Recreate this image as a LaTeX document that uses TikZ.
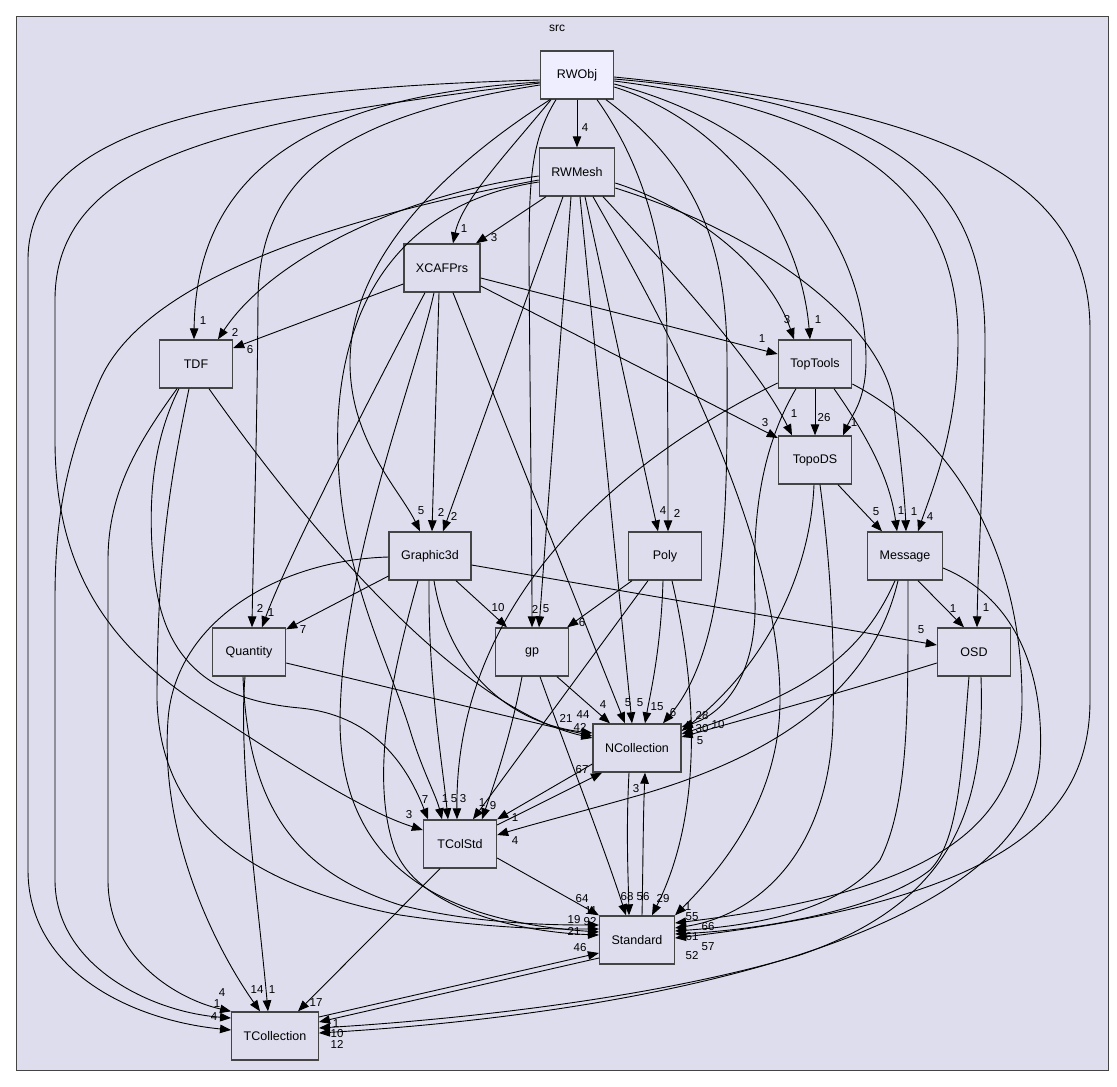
\documentclass[tikz,border=0pt]{standalone}
\usepackage{fontspec}
\setmainfont{Liberation Sans}
\usepackage{xcolor}
\usepackage{tikz}
\usetikzlibrary{arrows.meta}
\definecolor{clusterfill}{HTML}{DDDDEE}
\definecolor{dirfill}{HTML}{DDDDEE}
\definecolor{topfill}{HTML}{EEEEFF}
\definecolor{borderline}{HTML}{444444}

\begin{document}
\begin{tikzpicture}[x=1pt,y=-1pt,
  cluster/.style={draw=borderline,line width=0.9pt,fill=clusterfill},
  dirbox/.style={rectangle,draw=borderline,line width=1.4pt,fill=dirfill,minimum width=73pt,minimum height=48pt,inner xsep=12pt,font=\fontsize{12.5}{14}\selectfont},
  topbox/.style={dirbox,fill=topfill},
  dep/.style={-{Triangle[length=11pt,width=8.5pt]},line width=0.9pt},
  lbl/.style={font=\fontsize{11.5}{12}\selectfont,inner sep=0pt}]
\useasboundingbox[fill=white] (0,0) rectangle (1117,1087);
\draw[cluster] (16,16) rectangle (1108,1070);
\node[font=\fontsize{12}{13}\selectfont] (srclabel) at (557,28) {src};

\node[topbox] (RWObj) at (577,75) {RWObj};
\node[dirbox] (RWMesh) at (577,172) {RWMesh};
\node[dirbox] (XCAFPrs) at (442,268) {XCAFPrs};
\node[dirbox] (TDF) at (196,364) {TDF};
\node[dirbox] (TopTools) at (815,364) {TopTools};
\node[dirbox] (TopoDS) at (815,460) {TopoDS};
\node[dirbox] (Graphic3d) at (430,556) {Graphic3d};
\node[dirbox] (Poly) at (665,556) {Poly};
\node[dirbox] (Message) at (905,556) {Message};
\node[dirbox] (Quantity) at (249,652) {Quantity};
\node[dirbox] (gp) at (532,652) {gp};
\node[dirbox] (OSD) at (974,652) {OSD};
\node[dirbox] (NCollection) at (637,748) {NCollection};
\node[dirbox] (TColStd) at (460,844) {TColStd};
\node[dirbox] (Standard) at (637,940) {Standard};
\node[dirbox] (TCollection) at (275,1036) {TCollection};

\draw[dep] (RWObj) -- (RWMesh) node[lbl] at (585,128) {4};
\draw[dep] ([xshift=-26pt]RWObj.south) .. controls (510,150) and (462,200) .. ([xshift=11pt]XCAFPrs.north) node[lbl] at (464,229) {1};
\draw[dep] ([yshift=-7pt]RWObj.west) .. controls (330,95) and (196,160) .. ([xshift=-2pt]TDF.north) node[lbl] at (203,321) {1};
\draw[dep] ([yshift=-10pt]RWObj.west) .. controls (350,115) and (259,170) .. (258,300) .. controls (257,450) and (253,560) .. ([xshift=3pt]Quantity.north) node[lbl] at (260,608) {2};
\draw[dep] ([xshift=-27pt]RWObj.south) .. controls (440,170) and (352,260) .. (350,360) .. controls (349,440) and (400,490) .. ([xshift=-10pt]Graphic3d.north) node[lbl] at (421,511) {5};
\draw[dep] ([xshift=-21pt]RWObj.south) .. controls (531,140) and (529,180) .. (529,260) .. controls (530,400) and (532,550) .. (gp.north) node[lbl] at (535,609) {2};
\draw[dep] ([xshift=20pt]RWObj.south) .. controls (640,160) and (667,240) .. (667,340) .. controls (668,420) and (668,480) .. ([xshift=3pt]Poly.north) node[lbl] at (677,513) {2};
\draw[dep] ([xshift=29pt]RWObj.south) .. controls (700,170) and (727,250) .. (727,360) .. controls (728,520) and (725,650) .. ([xshift=26pt]NCollection.north) node[lbl] at (673,713) {6};
\draw[dep] ([yshift=-12pt]RWObj.east) .. controls (720,120) and (800,220) .. ([xshift=-5pt]TopTools.north) node[lbl] at (818,320) {1};
\draw[dep] ([yshift=-9pt]RWObj.east) .. controls (790,130) and (866,250) .. (866,360) .. controls (866,400) and (852,415) .. ([xshift=28pt]TopoDS.north) node[lbl] at (854,423) {1};
\draw[dep] ([yshift=-6pt]RWObj.east) .. controls (880,115) and (958,210) .. (958,340) .. controls (958,430) and (932,490) .. ([xshift=13pt]Message.north) node[lbl] at (930,517) {4};
\draw[dep] ([yshift=-4pt]RWObj.east) .. controls (920,105) and (985,200) .. (985,340) .. controls (985,450) and (978,560) .. ([xshift=3pt]OSD.north) node[lbl] at (986,608) {1};
\draw[dep] ([yshift=-2pt]RWObj.east) .. controls (950,110) and (1090,180) .. (1090,330) -- (1090,700) .. controls (1090,820) and (1000,900) .. ([yshift=2pt]Standard.east) node[lbl] at (692,956) {52};
\draw[dep] ([yshift=-5pt]RWObj.west) .. controls (250,88) and (28,120) .. (28,260) -- (28,870) .. controls (28,970) and (130,1020) .. ([yshift=6pt]TCollection.west) node[lbl] at (214,1017) {4};
\draw[dep] ([yshift=-8pt]RWObj.west) .. controls (250,120) and (55,150) .. (55,300) -- (55,440) .. controls (55,560) and (100,640) .. (200,705) .. controls (280,757) and (360,810) .. ([yshift=14pt]TColStd.west) node[lbl] at (409,815) {3};

\draw[dep] ([xshift=-31pt]RWMesh.south) -- ([xshift=34pt]XCAFPrs.north) node[lbl] at (494,238) {3};
\draw[dep] ([yshift=-4pt]RWMesh.west) .. controls (400,195) and (270,260) .. ([xshift=22pt]TDF.north) node[lbl] at (235,332) {2};
\draw[dep] ([yshift=-8pt]RWMesh.west) .. controls (300,225) and (140,290) .. (100,380) .. controls (65,460) and (55,520) .. (55,600) -- (55,880) .. controls (55,965) and (150,1012) .. ([yshift=18pt]TCollection.west) node[lbl] at (217,1004) {1};
\draw[dep] ([yshift=-10pt]RWMesh.west) .. controls (420,200) and (345,280) .. (338,420) .. controls (333,560) and (385,650) .. (410,730) .. controls (422,770) and (436,795) .. ([xshift=-18pt]TColStd.north) node[lbl] at (445,799) {1};
\draw[dep] ([xshift=-14pt]RWMesh.south) -- ([xshift=13pt]Graphic3d.north) node[lbl] at (454,516) {2};
\draw[dep] ([xshift=-6pt]RWMesh.south) -- ([xshift=7pt]gp.north) node[lbl] at (546,609) {5};
\draw[dep] ([xshift=3pt]RWMesh.south) -- ([xshift=-5pt]NCollection.north) node[lbl] at (640,703) {5};
\draw[dep] ([xshift=8pt]RWMesh.south) -- ([xshift=-7pt]Poly.north) node[lbl] at (663,511) {4};
\draw[dep] ([xshift=16pt]RWMesh.south) .. controls (640,280) and (780,520) .. (780,700) .. controls (780,800) and (720,870) .. (Standard.north east) node[lbl] at (688,907) {1};
\draw[dep] ([yshift=-11pt]RWMesh.east) .. controls (700,210) and (770,270) .. ([xshift=-21pt]TopTools.north) node[lbl] at (787,320) {3};
\draw[dep] ([xshift=26pt]RWMesh.south) .. controls (680,280) and (760,370) .. ([xshift=-23pt]TopoDS.north) node[lbl] at (794,414) {1};
\draw[dep] ([yshift=-16pt]RWMesh.east) .. controls (780,240) and (880,330) .. (893,400) .. controls (900,450) and (905,500) .. ([xshift=1pt]Message.north) node[lbl] at (914,512) {1};

\draw[dep] ([yshift=-16pt]XCAFPrs.west) -- ([yshift=16pt]TDF.east) node[lbl] at (250,350) {6};
\draw[dep] ([yshift=-10pt]XCAFPrs.east) -- ([yshift=10pt]TopTools.west) node[lbl] at (762,339) {1};
\draw[dep] ([yshift=-18pt]XCAFPrs.east) -- ([yshift=22pt]TopoDS.west) node[lbl] at (765,423) {3};
\draw[dep] ([xshift=-3pt]XCAFPrs.south) -- ([xshift=2pt]Graphic3d.north) node[lbl] at (441,512) {2};
\draw[dep] ([xshift=-17pt]XCAFPrs.south) .. controls (405,330) and (290,550) .. ([xshift=13pt]Quantity.north) node[lbl] at (271,613) {1};
\draw[dep] ([xshift=11pt]XCAFPrs.south) -- ([xshift=-12pt]NCollection.north) node[lbl] at (628,703) {5};
\draw[dep] ([xshift=-8pt]XCAFPrs.south) .. controls (415,380) and (342,560) .. (340,720) .. controls (340,850) and (420,920) .. ([yshift=8pt]Standard.west) node[lbl] at (590,922) {92};

\draw[dep] ([xshift=13pt]TDF.south) .. controls (330,560) and (470,710) .. ([yshift=10pt]NCollection.west) node[lbl] at (566,718) {21};
\draw[dep] ([xshift=-19pt]TDF.south) .. controls (140,440) and (108,490) .. (108,560) -- (108,880) .. controls (108,960) and (180,1000) .. (TCollection.north west) node[lbl] at (222,993) {4};
\draw[dep] ([xshift=-17pt]TDF.south) .. controls (148,450) and (148,520) .. (155,580) .. controls (165,660) and (210,700) .. (300,708) .. controls (370,715) and (405,760) .. ([xshift=-32pt]TColStd.north) node[lbl] at (425,800) {7};
\draw[dep] ([xshift=-7pt]TDF.south) .. controls (170,480) and (157,560) .. (157,700) .. controls (160,800) and (220,880) .. (400,915) .. controls (500,930) and (560,929) .. ([yshift=11pt]Standard.west) node[lbl] at (574,920) {19};

\draw[dep] (TopTools) -- (TopoDS) node[lbl] at (824,418) {26};
\draw[dep] ([xshift=19pt]TopTools.south) .. controls (870,440) and (890,480) .. ([xshift=-8pt]Message.north) node[lbl] at (901,511) {1};
\draw[dep] ([yshift=-19pt]TopTools.west) .. controls (620,460) and (455,600) .. ([xshift=-3pt]TColStd.north) node[lbl] at (463,799) {3};
\draw[dep] ([xshift=-19pt]TopTools.south) .. controls (760,450) and (752,520) .. (755,600) .. controls (757,680) and (720,715) .. ([yshift=21pt]NCollection.east) node[lbl] at (702,716) {28};
\draw[dep] ([yshift=-20pt]TopTools.east) .. controls (960,440) and (1022,560) .. (1022,700) .. controls (1022,820) and (950,890) .. ([yshift=17pt]Standard.east) node[lbl] at (692,917) {55};

\draw[dep] ([xshift=23pt]TopoDS.south) -- ([xshift=-23pt]Message.north) node[lbl] at (876,512) {5};
\draw[dep] ([xshift=-1pt]TopoDS.south) .. controls (810,580) and (760,670) .. ([yshift=17pt]NCollection.east) node[lbl] at (718,725) {10};
\draw[dep] ([xshift=5pt]TopoDS.south) .. controls (830,560) and (835,640) .. (833,720) .. controls (830,850) and (760,915) .. ([yshift=12pt]Standard.east) node[lbl] at (708,927) {66};

\draw[dep] ([yshift=-20pt]Graphic3d.west) -- ([yshift=-2pt]Quantity.north east) node[lbl] at (303,630) {7};
\draw[dep] ([xshift=26pt]Graphic3d.south) -- ([xshift=-25pt]gp.north) node[lbl] at (498,608) {10};
\draw[dep] ([yshift=-9pt]Graphic3d.east) -- ([yshift=7pt]OSD.west) node[lbl] at (921,630) {5};
\draw[dep] ([xshift=4pt]Graphic3d.south) .. controls (450,680) and (520,725) .. ([yshift=15pt]NCollection.west) node[lbl] at (583,715) {44};
\draw[dep] ([xshift=-1pt]Graphic3d.south) .. controls (428,680) and (442,760) .. ([xshift=-12pt]TColStd.north) node[lbl] at (454,799) {5};
\draw[dep] ([xshift=-12pt]Graphic3d.south) .. controls (390,680) and (370,780) .. (395,850) .. controls (420,910) and (520,932) .. ([yshift=5pt]Standard.west) node[lbl] at (574,931) {21};
\draw[dep] ([yshift=-1pt]Graphic3d.west) .. controls (280,560) and (175,620) .. (168,720) .. controls (160,830) and (210,940) .. ([xshift=-15pt]TCollection.north) node[lbl] at (257,990) {14};

\draw[dep] ([xshift=-33pt]Poly.south) -- ([xshift=-2pt]gp.north east) node[lbl] at (582,623) {6};
\draw[dep] ([xshift=-17pt]Poly.south) -- ([xshift=13pt]TColStd.north) node[lbl] at (482,803) {1};
\draw[dep] ([xshift=-2pt]Poly.south) .. controls (661,650) and (650,695) .. ([xshift=8pt]NCollection.north) node[lbl] at (657,707) {15};
\draw[dep] ([xshift=7pt]Poly.south) .. controls (700,700) and (700,820) .. ([xshift=15pt]Standard.north) node[lbl] at (663,899) {29};

\draw[dep] ([xshift=13pt]Message.south) -- ([xshift=-10pt]OSD.north) node[lbl] at (953,609) {1};
\draw[dep] ([xshift=-10pt]Message.south) .. controls (860,660) and (800,695) .. ([yshift=14pt]NCollection.east) node[lbl] at (702,729) {30};
\draw[dep] ([xshift=-7pt]Message.south) .. controls (870,700) and (760,760) .. (640,795) .. controls (580,812) and (530,825) .. ([yshift=9pt]TColStd.east) node[lbl] at (515,841) {4};
\draw[dep] ([xshift=3pt]Message.south) .. controls (908,700) and (910,800) .. (880,860) .. controls (840,910) and (760,925) .. ([yshift=9pt]Standard.east) node[lbl] at (692,937) {61};
\draw[dep] ([yshift=-12pt]Message.east) .. controls (1020,600) and (1045,680) .. (1040,760) .. controls (1030,920) and (700,1010) .. ([yshift=3pt]TCollection.east) node[lbl] at (337,1044) {12};

\draw[dep] ([yshift=-11pt]OSD.west) .. controls (850,690) and (760,715) .. ([yshift=11pt]NCollection.east) node[lbl] at (700,741) {5};
\draw[dep] ([xshift=-5pt]OSD.south) .. controls (962,760) and (960,840) .. (930,870) .. controls (880,910) and (760,930) .. ([yshift=6pt]Standard.east) node[lbl] at (708,947) {57};
\draw[dep] ([xshift=7pt]OSD.south) .. controls (985,800) and (960,900) .. (800,955) .. controls (650,1000) and (450,1020) .. ([yshift=8pt]TCollection.east) node[lbl] at (337,1034) {10};

\draw[dep] ([yshift=-11pt]Quantity.east) .. controls (400,690) and (500,715) .. ([yshift=12pt]NCollection.west) node[lbl] at (580,727) {42};
\draw[dep] ([xshift=-4pt]Quantity.south) .. controls (238,760) and (258,900) .. ([xshift=-7pt]TCollection.north) node[lbl] at (272,990) {1};
\draw[dep] ([xshift=-6pt]Quantity.south) .. controls (248,800) and (290,870) .. (400,905) .. controls (480,925) and (560,925) .. ([yshift=15pt]Standard.west) node[lbl] at (591,911) {11};

\draw[dep] ([xshift=25pt]gp.south) -- ([xshift=-27pt]NCollection.north) node[lbl] at (603,705) {4};
\draw[dep] ([xshift=-10pt]gp.south) .. controls (510,740) and (492,790) .. ([xshift=22pt]TColStd.north) node[lbl] at (493,806) {9};
\draw[dep] ([xshift=8pt]gp.south) .. controls (570,760) and (605,850) .. ([xshift=-11pt]Standard.north) node[lbl] at (627,897) {68};

\draw[dep] ([yshift=-16pt]NCollection.west) -- (TColStd.north east) node[lbl] at (515,818) {1};
\draw[dep] ([xshift=-8pt]NCollection.south) .. controls (626,830) and (628,870) .. ([xshift=-8pt]Standard.north) node[lbl] at (643,897) {56};

\draw[dep] ([yshift=19pt]TColStd.east) -- ([xshift=-35pt]NCollection.south) node[lbl] at (582,770) {67};
\draw[dep] ([yshift=-14pt]TColStd.east) -- (Standard.north west) node[lbl] at (582,899) {64};
\draw[dep] ([xshift=-20pt]TColStd.south) -- ([xshift=23pt]TCollection.north) node[lbl] at (316,1003) {17};

\draw[dep] ([xshift=5pt]Standard.north) .. controls (643,870) and (643,820) .. ([xshift=8pt]NCollection.south) node[lbl] at (636,789) {3};
\draw[dep] ([yshift=-18pt]Standard.west) -- ([yshift=14pt]TCollection.east) node[lbl] at (336,1024) {1};
\draw[dep] ([yshift=19pt]TCollection.east) -- ([yshift=-13pt]Standard.west) node[lbl] at (580,948) {46};
\end{tikzpicture}
\end{document}
